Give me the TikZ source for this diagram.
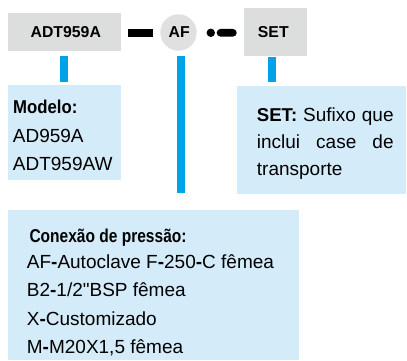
\documentclass[tikz,border=0pt]{standalone}
\usepackage{fontspec}
\setmainfont{Liberation Sans}[Ligatures=TeXOff]
\usepackage{graphicx}
\definecolor{boxgray}{HTML}{DCDDDD}
\definecolor{circgray}{HTML}{E0E0E0}
\definecolor{lightblue}{HTML}{D4ECF9}
\definecolor{barblue}{HTML}{00A2E8}
\begin{document}
\begin{tikzpicture}[x=1pt,y=-1pt,
  labelbox/.style={fill=boxgray, draw=none, inner sep=0pt, font=\fontsize{15.8}{18}\selectfont\bfseries},
  labelcirc/.style={circle, fill=circgray, draw=none, inner sep=0pt, minimum size=36.4pt, font=\fontsize{15.8}{18}\selectfont\bfseries},
  infobox/.style={fill=lightblue, draw=none, inner sep=0pt, anchor=north west},
  bar/.style={draw=barblue, line width=8.3pt},
  txt/.style={anchor=base west, inner sep=0pt, font=\fontsize{19}{22}\selectfont},
  sepmark/.style={fill=black, draw=none, inner sep=0pt, minimum height=7.7pt}
]
\useasboundingbox (0,0) rectangle (407,360);
% top row
\node[labelbox, minimum width=112.7pt, minimum height=38pt] (adt) at (64.3,31.7) {\hspace*{3pt}\raisebox{-2pt}{ADT959A}};
\node[labelcirc] (af) at (178.5,32.5) {\hspace*{1.5pt}\raisebox{-1pt}{AF}};
\node[labelbox, minimum width=62.7pt, minimum height=47.7pt] (set) at (275.3,31.85) {\raisebox{-2pt}{SET}\hspace*{4pt}};
\node[sepmark, minimum width=25pt] (d1) at (140.8,32.85) {};
\node[sepmark, circle, minimum size=8.4pt] (dot) at (210.8,32.8) {};
\node[sepmark, minimum width=20pt, rounded corners=3.85pt] (d2) at (226.7,32.8) {};
% info boxes
\node[infobox, minimum width=112.7pt, minimum height=95pt] (mod) at (8,85) {};
\node[infobox, minimum width=169.3pt, minimum height=107.3pt] (sdesc) at (236.7,86) {};
\node[infobox, minimum width=291pt, minimum height=150pt] (con) at (8,210) {};
% connector bars
\coordinate (ma) at (adt.south |- mod.north);
\coordinate (ca) at (af.south |- con.north);
\coordinate (sa) at (set.south |- sdesc.north);
\draw[bar] ([yshift=-5pt]adt.south) -- ([yshift=3.3pt]ma);
\draw[bar] ([xshift=2.3pt,yshift=-5pt]af.south) -- ([xshift=2.3pt,yshift=16.7pt]ca);
\draw[bar] ([xshift=-3.6pt,yshift=-1pt]set.south) -- ([xshift=-3.6pt,yshift=4.3pt]sa);
% Modelo text
\node[txt] (m1) at (13,113) {\scalebox{0.9}[1]{\fontsize{18.6}{22}\selectfont\bfseries Modelo:}};
\node[txt] (m2) at (12.7,142) {AD959A};
\node[txt] (m3) at (12.7,170) {ADT959AW};
% SET text
\node[txt] (s1) at (256.7,121) {\makebox[136.7pt][s]{{\fontsize{18.6}{22}\selectfont\bfseries SET:} Sufixo que}};
\node[txt] (s2) at (256.7,148.3) {\makebox[136.7pt][s]{inclui case de}};
\node[txt] (s3) at (256.7,175.7) {transporte};
% Conexao text
\node[txt] (c1) at (29.3,242.3) {\scalebox{0.835}[1]{\fontsize{18.6}{22}\selectfont\bfseries Conexão de pressão:}};
\node[txt] (c2) at (26.7,268.3) {AF\textbf{-}Autoclave F\textbf{-}250\textbf{-}C fêmea};
\node[txt] (c3) at (26.7,296.7) {B2\textbf{-}1/2"BSP fêmea};
\node[txt] (c4) at (26.7,325) {X\textbf{-}Customizado};
\node[txt] (c5) at (26.7,353.3) {M\textbf{-}M20X1,5 fêmea};
\end{tikzpicture}
\end{document}
